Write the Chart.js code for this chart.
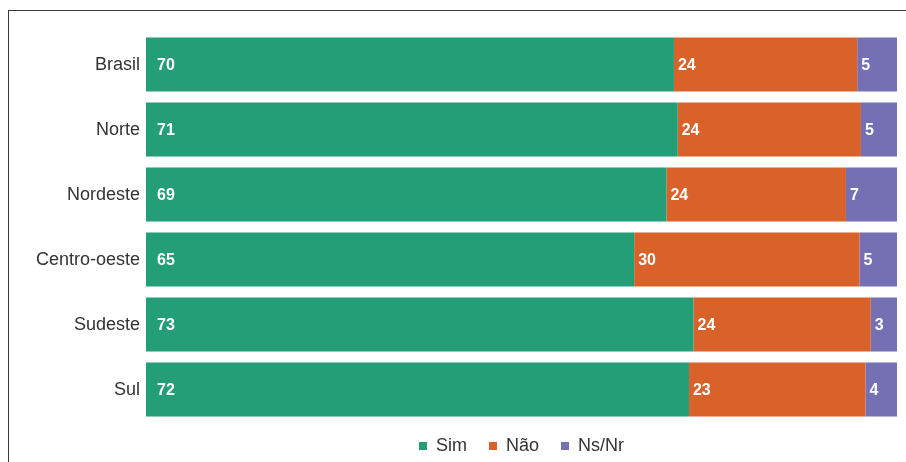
<!DOCTYPE html>
<html>
<head>
<meta charset="utf-8">
<script src="https://cdn.jsdelivr.net/npm/chart.js@4"></script>
<style>
  html, body { margin: 0; padding: 0; background: #fff; }
  #frame { position: absolute; left: 8px; top: 10px; width: 910px; height: 470px;
           border-left: 1.5px solid #3a3a3a; border-top: 1.5px solid #3a3a3a; box-sizing: border-box; }
  #c { position: absolute; left: 0; top: 0; }
</style>
</head>
<body>
<div id="frame"></div>
<canvas id="c" width="906" height="462"></canvas>
<script>
const categories = ['Brasil', 'Norte', 'Nordeste', 'Centro-oeste', 'Sudeste', 'Sul'];
const seriesNames = ['Sim', 'Não', 'Ns/Nr'];
// bar lengths (percent)
const sim  = [70.3, 70.8, 69.3, 65.0, 72.9, 72.3];
const nao  = [24.4, 24.4, 23.9, 30.0, 23.6, 23.5];
const nsnr = [5.3, 4.8, 6.8, 5.0, 3.5, 4.2];
// value labels as printed on the bars
const simLabels  = ['70', '71', '69', '65', '73', '72'];
const naoLabels  = ['24', '24', '24', '30', '24', '23'];
const nsnrLabels = ['5', '5', '7', '5', '3', '4'];
const colors = ['#239e76', '#d9612a', '#7570b3'];

const series = [sim, nao, nsnr];
const valueLabels = [simLabels, naoLabels, nsnrLabels];

const FONT = '"Liberation Sans", Arial, Helvetica, sans-serif';

const labelPlugin = {
  id: 'segLabels',
  afterDatasetsDraw(chart) {
    const ctx = chart.ctx;
    ctx.save();
    ctx.font = 'bold 16px ' + FONT;
    ctx.fillStyle = '#ffffff';
    ctx.textAlign = 'left';
    ctx.textBaseline = 'middle';
    chart.data.datasets.forEach((ds, di) => {
      const meta = chart.getDatasetMeta(di);
      meta.data.forEach((el, i) => {
        const p = el.getProps(['x', 'y', 'base'], true);
        const left = Math.min(p.x, p.base);
        ctx.fillText(valueLabels[di][i], left + (di === 0 ? 11 : 4), p.y + 1);
      });
    });
    ctx.restore();
  }
};

const legendShift = {
  id: 'legendShift',
  afterLayout(chart) {
    if (chart.legend) { chart.legend.top -= 7; chart.legend.bottom -= 7; }
  }
};

new Chart(document.getElementById('c'), {
  type: 'bar',
  data: {
    labels: categories,
    datasets: series.map((arr, k) => ({
      label: seriesNames[k],
      data: arr,
      backgroundColor: colors[k],
      borderWidth: 0,
      barPercentage: 0.83,
      categoryPercentage: 1.0
    }))
  },
  options: {
    indexAxis: 'y',
    responsive: false,
    animation: false,
    devicePixelRatio: 1,
    layout: { padding: { left: 10, right: 9, top: 32, bottom: 0 } },
    scales: {
      x: { stacked: true, min: 0, max: 100, display: false },
      y: {
        stacked: true,
        grid: { display: false, drawTicks: false },
        border: { display: false },
        ticks: { color: '#333333', font: { family: FONT, size: 18 }, padding: 6, labelOffset: 1 },
        afterFit: s => { s.width = 136; }
      }
    },
    plugins: {
      tooltip: { enabled: false },
      legend: {
        position: 'bottom',
        fullSize: false,
        maxHeight: 40,
        labels: {
          boxWidth: 8, boxHeight: 8, padding: 22,
          color: '#333333',
          font: { family: FONT, size: 18 }
        }
      }
    }
  },
  plugins: [labelPlugin, legendShift]
});
</script>
</body>
</html>
